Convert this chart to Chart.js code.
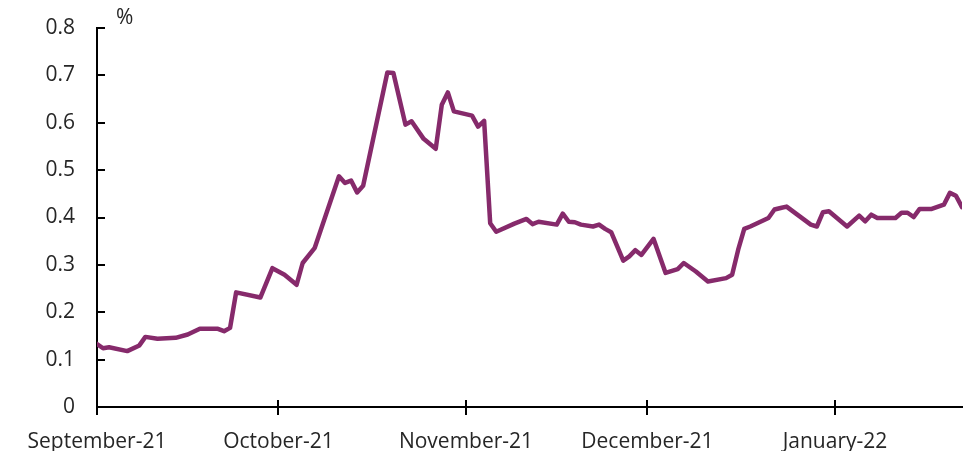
<!DOCTYPE html>
<html>
<head>
<meta charset="utf-8">
<script src="https://cdn.jsdelivr.net/npm/chart.js@4.4.1/dist/chart.umd.min.js"></script>
<style>
  html, body { margin: 0; padding: 0; background: #fff; }
  #wrap { width: 967px; height: 451px; position: relative; }
</style>
</head>
<body>
<div id="wrap"><canvas id="c" width="967" height="451"></canvas></div>
<script>
// ---- data ----
const startDate = '2021-09-01';
const dates = [
  '2021-09-01','2021-09-02','2021-09-03','2021-09-06','2021-09-08','2021-09-09','2021-09-11','2021-09-14',
  '2021-09-16','2021-09-18','2021-09-21','2021-09-22','2021-09-23','2021-09-24','2021-09-28','2021-09-30',
  '2021-10-02','2021-10-04','2021-10-05','2021-10-07','2021-10-11','2021-10-12','2021-10-13','2021-10-14',
  '2021-10-15','2021-10-19','2021-10-20','2021-10-22','2021-10-23','2021-10-25','2021-10-27','2021-10-28',
  '2021-10-29','2021-10-30','2021-11-02','2021-11-03','2021-11-04','2021-11-05','2021-11-06','2021-11-09',
  '2021-11-11','2021-11-12','2021-11-13','2021-11-16','2021-11-17','2021-11-18','2021-11-19','2021-11-20',
  '2021-11-22','2021-11-23','2021-11-24','2021-11-25','2021-11-27','2021-11-28','2021-11-29','2021-11-30',
  '2021-12-02','2021-12-04','2021-12-06','2021-12-07','2021-12-09','2021-12-11','2021-12-14','2021-12-15',
  '2021-12-16','2021-12-17','2021-12-18','2021-12-21','2021-12-22','2021-12-23','2021-12-24','2021-12-28',
  '2021-12-29','2021-12-30','2021-12-31','2022-01-03','2022-01-05','2022-01-06','2022-01-07','2022-01-08',
  '2022-01-11','2022-01-12','2022-01-13','2022-01-14','2022-01-15','2022-01-17','2022-01-19','2022-01-20',
  '2022-01-21','2022-01-22'
];
const values = [
  0.133,0.124,0.126,0.118,0.130,0.148,0.144,0.146,
  0.153,0.165,0.165,0.160,0.167,0.242,0.231,0.293,
  0.279,0.258,0.304,0.336,0.487,0.473,0.478,0.453,
  0.467,0.706,0.705,0.596,0.603,0.566,0.545,0.638,
  0.664,0.624,0.615,0.592,0.604,0.388,0.370,0.387,
  0.397,0.386,0.391,0.385,0.408,0.391,0.390,0.385,
  0.381,0.385,0.376,0.369,0.309,0.318,0.331,0.321,
  0.355,0.283,0.291,0.304,0.286,0.265,0.272,0.279,
  0.332,0.376,0.381,0.399,0.417,0.420,0.423,0.385,
  0.381,0.411,0.413,0.381,0.404,0.392,0.406,0.399,
  0.399,0.410,0.410,0.401,0.418,0.418,0.427,0.452,
  0.446,0.422
];
const tickDates = ['2021-09-01','2021-10-01','2021-11-01','2021-12-01','2022-01-01'];
const tickLabels = ['September-21','October-21','November-21','December-21','January-22'];
const yTicks = [0, 0.1, 0.2, 0.3, 0.4, 0.5, 0.6, 0.7, 0.8];
const unitLabel = '%';

// ---- helpers ----
const DAY = 86400000;
const dayOf = d => Math.round((Date.parse(d) - Date.parse(startDate)) / DAY);
const points = dates.map((d, i) => ({ x: dayOf(d), y: values[i] }));
const tickDays = tickDates.map(dayOf);
const labelFor = {};
tickDays.forEach((d, i) => { labelFor[d] = tickLabels[i]; });

const FONT = "'Open Sans', sans-serif";
const FSIZE = 21;
const TXT = '#262626';

const tickPlugin = {
  id: 'tickMarks',
  afterDraw(chart) {
    const { ctx, chartArea } = chart;
    const xs = chart.scales.x, ys = chart.scales.y;
    ctx.save();
    ctx.strokeStyle = '#000';
    ctx.lineWidth = 2;
    ctx.beginPath();
    yTicks.forEach(v => {
      if (v === 0) return;
      const y = Math.round(ys.getPixelForValue(v));
      ctx.moveTo(chartArea.left, y);
      ctx.lineTo(chartArea.left + 8, y);
    });
    tickDays.forEach(d => {
      const x = Math.round(xs.getPixelForValue(d));
      ctx.moveTo(x, chartArea.bottom - 7);
      ctx.lineTo(x, chartArea.bottom + 8);
    });
    ctx.stroke();
    ctx.fillStyle = TXT;
    ctx.font = FSIZE + 'px ' + FONT;
    ctx.textAlign = 'left';
    ctx.textBaseline = 'middle';
    ctx.fillText(unitLabel, chartArea.left + 19, chartArea.top - 10);
    ctx.restore();
  }
};

new Chart(document.getElementById('c'), {
  type: 'line',
  data: {
    datasets: [{
      data: points,
      borderColor: '#862A6B',
      borderWidth: 4.5,
      borderJoinStyle: 'round',
      borderCapStyle: 'round',
      pointRadius: 0,
      tension: 0,
      fill: false
    }]
  },
  options: {
    responsive: false,
    animation: false,
    layout: { padding: { top: 28, right: 5, left: 0, bottom: 0 } },
    plugins: { legend: { display: false }, tooltip: { enabled: false } },
    scales: {
      x: {
        type: 'linear',
        min: 0,
        max: points[points.length - 1].x,
        grid: { display: false, drawTicks: false },
        border: { display: true, color: '#000', width: 2 },
        afterBuildTicks: s => { s.ticks = tickDays.map(v => ({ value: v })); },
        afterFit: s => { s.height = 44; s.paddingRight = 0; },
        ticks: {
          autoSkip: false,
          maxRotation: 0,
          padding: 22,
          color: TXT,
          font: { family: FONT, size: FSIZE },
          callback: v => labelFor[v] || ''
        }
      },
      y: {
        min: 0,
        max: 0.8,
        grid: { display: false, drawTicks: false },
        border: { display: true, color: '#000', width: 2 },
        afterBuildTicks: s => { s.ticks = yTicks.map(v => ({ value: v })); },
        afterFit: s => { s.width = 97; s.paddingTop = 0; s.paddingBottom = 0; },
        ticks: {
          padding: 22,
          color: TXT,
          font: { family: FONT, size: FSIZE },
          callback: v => String(Number(v.toFixed(1)))
        }
      }
    }
  },
  plugins: [tickPlugin]
});
</script>
</body>
</html>
